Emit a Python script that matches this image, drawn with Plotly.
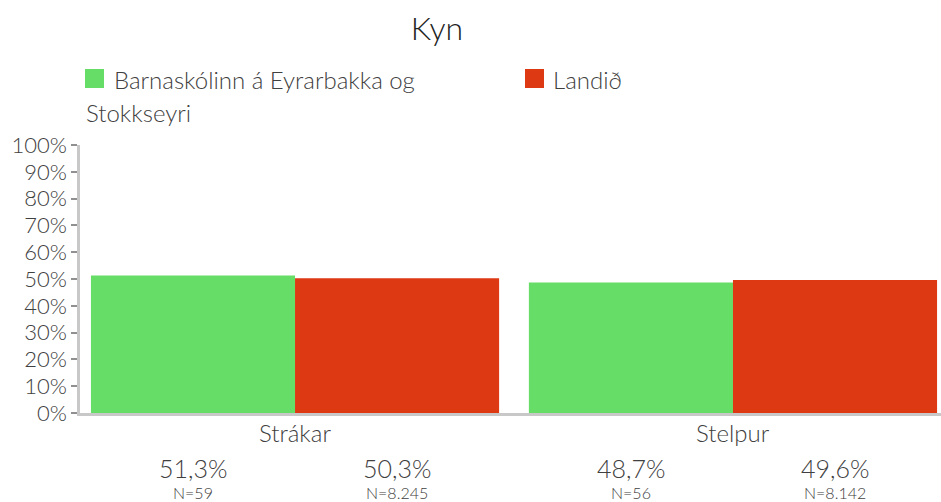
import plotly.graph_objects as go

categories = ["Strákar", "Stelpur"]
series_names = ["Barnaskólinn á Eyrarbakka og Stokkseyri", "Landið"]
school_values = [51.3, 48.7]
country_values = [50.3, 49.6]
school_n = ["N=59", "N=56"]
country_n = ["N=8.245", "N=8.142"]
colors = ["#66DD66", "#DD3913"]

FONT = "Lato"
TXT = "#404040"
W, H = 941, 502
L, R, T, B = 80, 0, 145, 89
plot_w = W - L - R
plot_h = H - T - B


def px(xp):
    return (xp - L) / plot_w


def py(yp):
    return (H - B - yp) / plot_h


fig = go.Figure()
fig.add_trace(go.Bar(x=categories, y=school_values, name=series_names[0],
                     marker=dict(color=colors[0], line=dict(width=0))))
fig.add_trace(go.Bar(x=categories, y=country_values, name=series_names[1],
                     marker=dict(color=colors[1], line=dict(width=0))))

ann = []
for i, cat in enumerate(categories):
    ann.append(dict(x=i, y=0, xref="x", yref="paper", text=cat, showarrow=False,
                    yanchor="top", yshift=-3,
                    font=dict(size=24, color=TXT, family=FONT, weight=300)))
    for off, val, n in [(-0.233, school_values[i], school_n[i]),
                        (0.233, country_values[i], country_n[i])]:
        ann.append(dict(x=i + off, y=0, xref="x", yref="paper",
                        text=f"{val:.1f}%".replace(".", ","), showarrow=False,
                        yanchor="top", yshift=-38,
                        font=dict(size=25, color=TXT, family=FONT, weight=300)))
        ann.append(dict(x=i + off, y=0, xref="x", yref="paper", text=n, showarrow=False,
                        yanchor="top", yshift=-68,
                        font=dict(size=16, color=TXT, family=FONT, weight=300)))

# legend drawn manually
leg_font = dict(size=24, color=TXT, family=FONT, weight=300)
ann.append(dict(x=px(112), y=py(63), xref="paper", yref="paper", showarrow=False,
                xanchor="left", yanchor="top", text=series_names[0].rsplit(" ", 1)[0],
                font=leg_font))
ann.append(dict(x=px(84), y=py(96), xref="paper", yref="paper", showarrow=False,
                xanchor="left", yanchor="top", text=series_names[0].rsplit(" ", 1)[1],
                font=leg_font))
ann.append(dict(x=px(551), y=py(63), xref="paper", yref="paper", showarrow=False,
                xanchor="left", yanchor="top", text=series_names[1],
                font=leg_font))

shapes = [
    dict(type="rect", xref="paper", yref="paper", x0=px(85), x1=px(104), y0=py(88), y1=py(69),
         fillcolor=colors[0], line=dict(width=0)),
    dict(type="rect", xref="paper", yref="paper", x0=px(525), x1=px(544), y0=py(88), y1=py(69),
         fillcolor=colors[1], line=dict(width=0)),
]

fig.update_layout(
    width=W, height=H,
    margin=dict(l=L, r=R, t=T, b=B, autoexpand=False),
    paper_bgcolor="white", plot_bgcolor="white",
    title=dict(text="Kyn", x=437 / W, xanchor="center", y=1 - 29 / H, yanchor="middle",
               font=dict(size=32, color="#222222", family=FONT, weight=300)),
    showlegend=False,
    barmode="group", bargap=0.068, bargroupgap=0,
    font=dict(family=FONT, color=TXT),
    annotations=ann,
    shapes=shapes,
)
fig.update_xaxes(type="category", range=[-0.491, 1.475], showticklabels=False,
                 showline=True, linecolor="#C8C8C8", linewidth=3, ticks="",
                 showgrid=False, zeroline=False, automargin=False)
fig.update_yaxes(range=[0, 100], dtick=10, ticksuffix="%", showgrid=False, zeroline=False,
                 showline=True, linecolor="#C8C8C8", linewidth=2.5, automargin=False,
                 ticks="outside", ticklen=6, tickcolor="#909090", tickwidth=1.5,
                 tickfont=dict(size=22, color=TXT, family=FONT, weight=300))

fig.write_html("out.html", config={"displayModeBar": False},
               post_script="document.body.style.margin='0';")
